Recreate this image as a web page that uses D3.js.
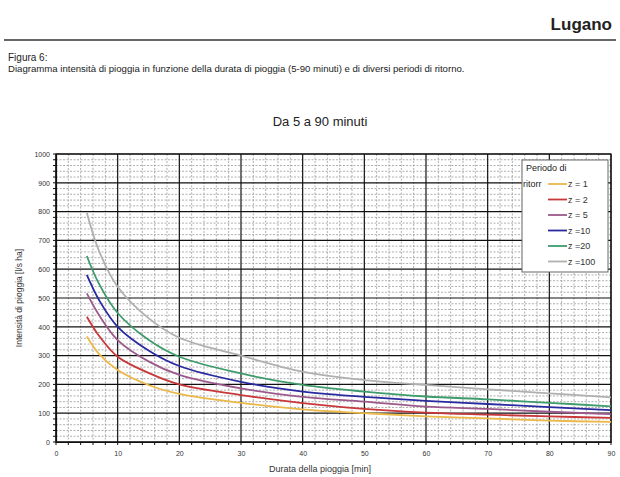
<!DOCTYPE html>
<html>
<head>
<meta charset="utf-8">
<script src="https://d3js.org/d3.v7.min.js"></script>
<style>
  body { margin: 0; background: #fff; }
  svg text { font-family: "Liberation Sans", Arial, sans-serif; }
</style>
</head>
<body>
<div id="graph"></div>
<script>
// durations in minutes and intensity [l/s ha] per return period
const durations = [5, 7, 10, 15, 20, 30, 40, 50, 60, 70, 80, 90];
const z1   = [366, 305, 250, 198, 167, 136, 113, 100, 89, 82, 74, 70];
const z2   = [435, 368, 296, 240, 200, 163, 135, 115, 102, 95, 89, 84];
const z5   = [516, 440, 354, 280, 233, 186, 157, 140, 123, 115, 105, 97];
const z10  = [580, 492, 400, 318, 264, 209, 175, 157, 143, 132, 121, 111];
const z20  = [646, 548, 448, 355, 296, 238, 198, 175, 158, 148, 136, 124];
const z100 = [796, 662, 539, 430, 362, 300, 244, 215, 198, 183, 169, 155];

const seriesNames = ["z = 1", "z = 2", "z = 5", "z =10", "z =20", "z =100"];
const seriesValues = [z1, z2, z5, z10, z20, z100];
const seriesColors = ["#ebb84a", "#c8383a", "#9c5a8c", "#2a2aa0", "#3e9c6c", "#b0b0b0"];

const xTicks = [0, 10, 20, 30, 40, 50, 60, 70, 80, 90];
const yTicks = [0, 100, 200, 300, 400, 500, 600, 700, 800, 900, 1000];

const W = 620, H = 477;
const plotL = 56, plotR = 611, plotT = 154, plotB = 442;

const svg = d3.select("#graph").append("svg")
  .attr("width", W).attr("height", H);

// page header
svg.append("text").attr("x", 612).attr("y", 30)
  .attr("text-anchor", "end").attr("font-size", 17).attr("font-weight", "bold")
  .attr("fill", "#222").text("Lugano");
svg.append("line").attr("x1", 4).attr("x2", 616).attr("y1", 40).attr("y2", 40)
  .attr("stroke", "#333").attr("stroke-width", 1.5);
svg.append("text").attr("x", 8).attr("y", 61).attr("font-size", 10)
  .attr("fill", "#222").text("Figura 6:");
svg.append("text").attr("x", 8).attr("y", 72).attr("font-size", 9.6)
  .attr("fill", "#222")
  .text("Diagramma intensità di pioggia in funzione della durata di pioggia (5-90 minuti) e di diversi periodi di ritorno.");

svg.append("text").attr("x", 320).attr("y", 126).attr("text-anchor", "middle")
  .attr("font-size", 13).attr("fill", "#222").text("Da 5 a 90 minuti");

const x = d3.scaleLinear().domain([0, 90]).range([plotL, plotR]);
const y = d3.scaleLinear().domain([0, 1000]).range([plotB, plotT]);

// minor grid (dashed)
const g = svg.append("g");
g.selectAll(".vminor").data(d3.range(0, 91, 2).filter(d => d % 10 !== 0))
  .enter().append("line")
  .attr("x1", d => x(d)).attr("x2", d => x(d)).attr("y1", plotT).attr("y2", plotB)
  .attr("stroke", "#9a9a9a").attr("stroke-width", 0.8).attr("stroke-dasharray", "2,1.5");
g.selectAll(".hminor").data(d3.range(0, 1001, 20).filter(d => d % 100 !== 0))
  .enter().append("line")
  .attr("x1", plotL).attr("x2", plotR).attr("y1", d => y(d)).attr("y2", d => y(d))
  .attr("stroke", "#9a9a9a").attr("stroke-width", 0.8).attr("stroke-dasharray", "2,1.5");

// major grid
g.selectAll(".vmajor").data(xTicks).enter().append("line")
  .attr("x1", d => x(d)).attr("x2", d => x(d)).attr("y1", plotT).attr("y2", plotB)
  .attr("stroke", "#111").attr("stroke-width", 1.2);
g.selectAll(".hmajor").data(yTicks).enter().append("line")
  .attr("x1", plotL).attr("x2", plotR).attr("y1", d => y(d)).attr("y2", d => y(d))
  .attr("stroke", "#111").attr("stroke-width", 1.2);

// axes
const xAxis = d3.axisBottom(x).tickValues(xTicks).tickSize(0).tickPadding(9);
const yAxis = d3.axisLeft(y).tickValues(yTicks).tickFormat(d3.format("d")).tickSize(0).tickPadding(6);
const gx = svg.append("g").attr("transform", "translate(0," + plotB + ")").call(xAxis);
const gy = svg.append("g").attr("transform", "translate(" + plotL + ",0)").call(yAxis);
[gx, gy].forEach(a => {
  a.select(".domain").attr("stroke", "#111").attr("stroke-width", 1.2);
  a.selectAll("text").attr("font-size", 7).attr("fill", "#333")
    .style("font-family", "'Liberation Sans', Arial, sans-serif");
});
// small minor tick marks
svg.append("g").selectAll("line").data(d3.range(0, 91, 2)).enter().append("line")
  .attr("x1", d => x(d)).attr("x2", d => x(d)).attr("y1", plotB).attr("y2", plotB + 3)
  .attr("stroke", "#111").attr("stroke-width", 1);
svg.append("g").selectAll("line").data(d3.range(0, 1001, 20)).enter().append("line")
  .attr("x1", plotL - 3).attr("x2", plotL).attr("y1", d => y(d)).attr("y2", d => y(d))
  .attr("stroke", "#111").attr("stroke-width", 1);

svg.append("rect").attr("x", plotL).attr("y", plotT)
  .attr("width", plotR - plotL).attr("height", plotB - plotT)
  .attr("fill", "none").attr("stroke", "#111").attr("stroke-width", 1.2);

// axis titles
svg.append("text").attr("transform", "translate(22," + ((plotT + plotB) / 2) + ") rotate(-90)")
  .attr("text-anchor", "middle").attr("font-size", 8.5).attr("fill", "#333")
  .text("Intensità di pioggia [l/s ha]");
svg.append("text").attr("x", 320).attr("y", 472).attr("text-anchor", "middle")
  .attr("font-size", 9).attr("fill", "#333").text("Durata della pioggia [min]");

// curves
const line = d3.line()
  .x((d, i) => x(durations[i]))
  .y(d => y(d))
  .curve(d3.curveCatmullRom.alpha(0.5));
svg.append("g").selectAll("path").data(seriesValues).enter().append("path")
  .attr("d", d => line(d))
  .attr("fill", "none")
  .attr("stroke", (d, i) => seriesColors[i])
  .attr("stroke-width", 1.8);

// legend
const lg = svg.append("g");
lg.append("rect").attr("x", 522).attr("y", 160).attr("width", 86).attr("height", 112)
  .attr("fill", "#fff").attr("stroke", "#666").attr("stroke-width", 1);
lg.append("text").attr("x", 526).attr("y", 171).attr("font-size", 9).attr("fill", "#222").text("Periodo di");
lg.append("text").attr("x", 523).attr("y", 187).attr("font-size", 9).attr("fill", "#222").text("ritorr");
const rows = lg.selectAll(".row").data(seriesNames).enter().append("g")
  .attr("transform", (d, i) => "translate(0," + (184 + i * 15.5) + ")");
rows.append("line").attr("x1", 548).attr("x2", 567).attr("y1", 0).attr("y2", 0)
  .attr("stroke", (d, i) => seriesColors[i]).attr("stroke-width", 1.8);
rows.append("text").attr("x", 568).attr("y", 3).attr("font-size", 9).attr("fill", "#333")
  .text(d => d);
</script>
</body>
</html>
